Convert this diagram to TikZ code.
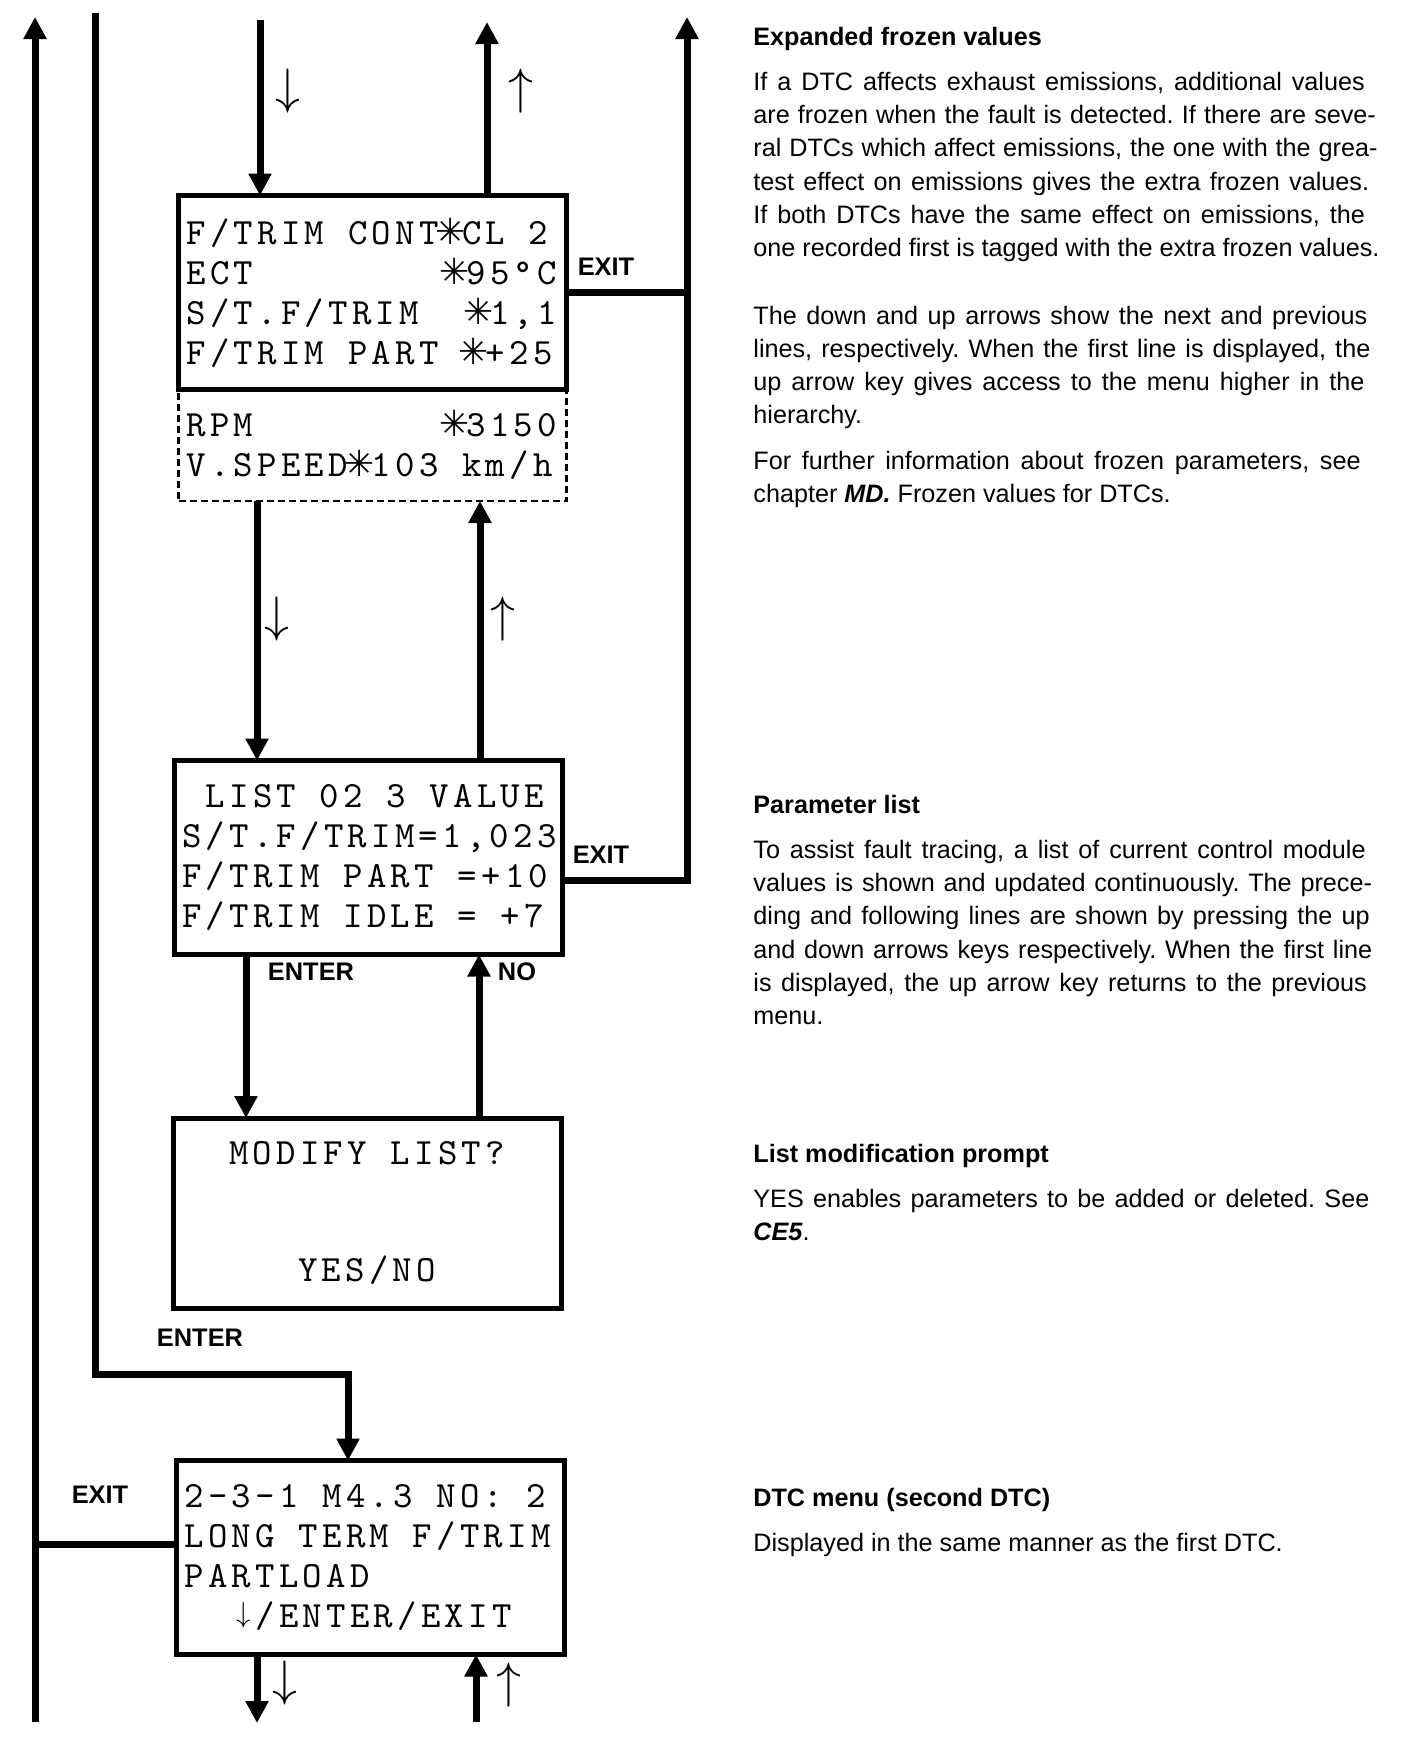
\documentclass[tikz,border=0pt]{standalone}
\usepackage{fontspec}
\usetikzlibrary{arrows.meta}
\usetikzlibrary{positioning}

\newfontfamily\lcdfont{lmmono10-regular.otf}[LetterSpace=11.5]
\newfontfamily\notefont{Liberation Sans}
\newfontfamily\dingfont{DejaVu Sans}

\newcommand\lcdstar{\makebox[11.84pt]{\fontsize{18}{18}\dingfont ✳}}
\newcommand\lcddown{\makebox[11.84pt]{\raisebox{2.4pt}{\fontsize{13.5}{13.5}\selectfont$\downarrow$}}}
\newcommand\lcdgap{\hspace*{11.84pt}}

\tikzset{
  flow/.style={line width=3.5pt},
  screen/.style={draw, line width=2.5pt, outer sep=0pt, inner sep=0pt,
    minimum width=194pt, minimum height=97pt, text width=194pt, align=left,
    font=\fontsize{18.5}{20}\lcdfont,
    execute at begin node={\frenchspacing\leftskip=4pt
      \spaceskip=11.84pt\xspaceskip=11.84pt\relax}},
  extra/.style={screen, line width=1.3pt, dash pattern=on 3.5pt off 2pt,
    minimum height=55.75pt},
  prompt/.style={screen, text width={}, align=center, minimum height=95pt},
  keylbl/.style={font=\fontsize{12.7}{15}\notefont\bfseries, inner sep=0pt},
  keysym/.style={font=\fontsize{23}{23}\selectfont, inner sep=0pt},
  note/.style={font=\fontsize{12.6}{16.65}\notefont, text width=315pt,
    inner sep=0pt, anchor=base west,
    execute at begin node={\setlength{\parskip}{6pt}\tolerance=10000
      \frenchspacing\spaceskip=3.5pt plus 4pt minus 1.2pt\relax}},
}

\begin{document}
\begin{tikzpicture}[x=0.5pt,y=-0.5pt,>={Triangle[width=11pt,length=11pt]}]
  \useasboundingbox (0,0) rectangle (1408,1740);

  % display screens
  \node[screen] (frz) at (372.5,292.5) {F/TRIM~CONT\lcdstar CL~2\\
    ECT~~~~~~~~\lcdstar95°C\\
    S/T.F/TRIM~~\lcdstar1,1\\
    F/TRIM~PART~\lcdstar+25};
  \node[extra, below=0pt of frz] (frzx) {RPM~~~~~~~~\lcdstar3150\\
    V.SPEED\lcdstar103~km/h};
  \node[screen] (lst) at (368,857.5) {\lcdgap LIST~02~3~VALUE\\
    S/T.F/TRIM=1,023\\
    F/TRIM~PART~=+10\\
    F/TRIM~IDLE~=~+7};
  \node[prompt] (mod) at (367,1213) {MODIFY~LIST?\\[38.5pt]YES/NO};
  \node[screen] (dtc) at (370.5,1557.5) {2-3-1~M4.3~NO:~2\\
    LONG~TERM~F/TRIM\\
    PARTLOAD\\
    \lcdgap\lcdgap\lcddown/ENTER/EXIT};

  % key symbols beside the lines
  \node[keysym] (kd1) at (288,91) {$\downarrow$};
  \node[keysym] (ku1) at (521,91) {$\uparrow$};
  \node[keysym] (kd2) at (277,619) {$\downarrow$};
  \node[keysym] (ku2) at (503,619) {$\uparrow$};
  \node[keysym] (kd3) at (285,1683) {$\downarrow$};
  \node[keysym] (ku3) at (509,1685) {$\uparrow$};

  \node[keylbl] (exfrz) at (606,267) {EXIT};
  \node[keylbl] (exlst) at (601,855) {EXIT};
  \node[keylbl] (enlst) at (311,972) {ENTER};
  \node[keylbl] (nolst) at (517,972) {NO};
  \node[keylbl] (enmod) at (200,1338) {ENTER};
  \node[keylbl] (exdtc) at (100,1495) {EXIT};

  % ends and columns of the lines
  \coordinate (inTop) at (260,20);
  \coordinate (upTop) at (487,22);
  \coordinate (l1Top) at (35,17);
  \coordinate (l1Bot) at (35,1722);
  \coordinate (l2Top) at (95,13);
  \coordinate (l2Turn) at (348,1374);
  \coordinate (l3Top) at (687,17);
  \coordinate (exitR) at (687,880);
  \coordinate (exitL) at (35,1544.5);
  \coordinate (colDn) at (257,0);
  \coordinate (colUp) at (480,0);
  \coordinate (colEnt) at (246,0);
  \coordinate (colNo) at (479,0);
  \coordinate (dnBot) at (257,1723);
  \coordinate (upBot) at (476,1722);

  \draw[flow,->] (inTop) -- (inTop |- frz.north);
  \draw[flow,->] (upTop |- frz.north) -- (upTop);
  \draw[flow] (frz.east) -- (frz.east -| exitR);
  \draw[flow,->] (lst.east |- exitR) -- (exitR) -- (l3Top);
  \draw[flow,->] (frzx.south -| colDn) -- (lst.north -| colDn);
  \draw[flow,->] (lst.north -| colUp) -- (frzx.south -| colUp);
  \draw[flow,->] (lst.south -| colEnt) -- (mod.north -| colEnt);
  \draw[flow,->] (mod.north -| colNo) -- (lst.south -| colNo);
  \draw[flow,->] (l2Top) |- (l2Turn) -- (l2Turn |- dtc.north);
  \draw[flow,->] (l1Bot) -- (l1Top);
  \draw[flow] (dtc.west |- exitL) -- (exitL);
  \draw[flow,->] (dtc.south -| colDn) -- (dnBot);
  \draw[flow,->] (upBot) -- (upBot |- dtc.south);

  % explanations
  \node[note] (txtfrz) at (753,45) {{\bfseries Expanded frozen values}\par
    If a DTC affects exhaust emissions, additional values\linebreak
    are frozen when the fault is detected. If there are seve-\linebreak
    ral DTCs which affect emissions, the one with the grea-\linebreak
    test effect on emissions gives the extra frozen values.\linebreak
    If both DTCs have the same effect on emissions, the\linebreak
    one recorded first is tagged with the extra frozen values.\par
    \vspace{11pt}The down and up arrows show the next and previous\linebreak
    lines, respectively. When the first line is displayed, the\linebreak
    up arrow key gives access to the menu higher in the\linebreak
    hierarchy.\par
    For further information about frozen parameters, see\linebreak
    chapter \textbf{\textit{MD.}} Frozen values for DTCs.};
  \node[note] (txtlst) at (753,813) {{\bfseries Parameter list}\par
    To assist fault tracing, a list of current control module\linebreak
    values is shown and updated continuously. The prece-\linebreak
    ding and following lines are shown by pressing the up\linebreak
    and down arrows keys respectively. When the first line\linebreak
    is displayed, the up arrow key returns to the previous\linebreak
    menu.};
  \node[note] (txtmod) at (753,1162) {{\bfseries List modification prompt}\par
    YES enables parameters to be added or deleted. See\linebreak
    \textbf{\textit{CE5}}.};
  \node[note] (txtdtc) at (753,1506) {{\bfseries DTC menu (second DTC)}\par
    Displayed in the same manner as the first DTC.};
\end{tikzpicture}
\end{document}
